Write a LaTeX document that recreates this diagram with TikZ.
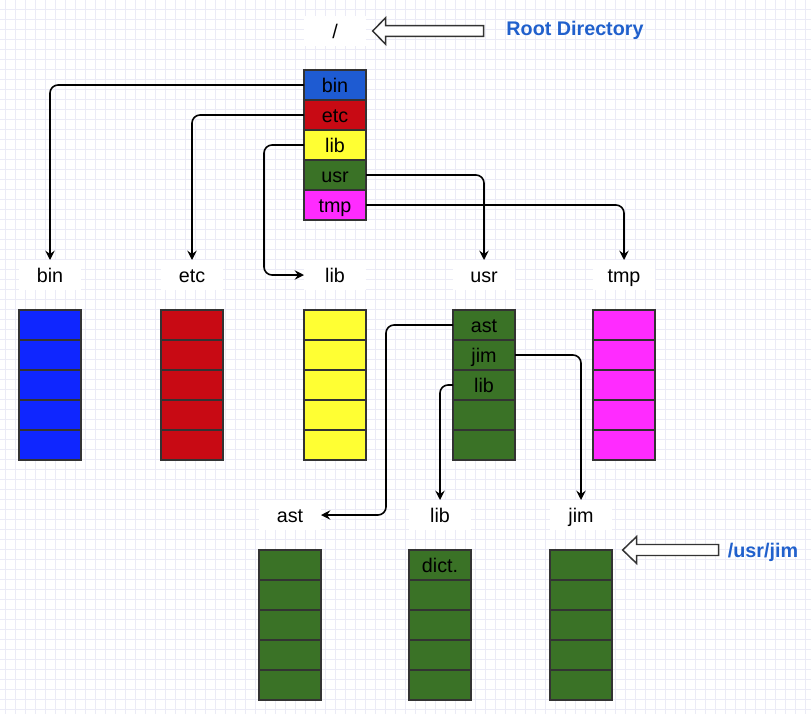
\documentclass[tikz,border=0pt]{standalone}
\usepackage{fontspec}
\setmainfont{Liberation Sans}
\usetikzlibrary{arrows.meta,positioning}

\definecolor{rootblue}{HTML}{1E5BD2}
\definecolor{binblue}{HTML}{0F26FF}
\definecolor{etcred}{HTML}{C80A14}
\definecolor{libyellow}{HTML}{FFFF33}
\definecolor{usrgreen}{HTML}{3A7226}
\definecolor{tmppink}{HTML}{FF2BFF}
\definecolor{cellline}{HTML}{333333}
\definecolor{notecol}{HTML}{2060CC}
\definecolor{gridcol}{HTML}{EBEBF6}

\tikzset{
  txt/.style={text height=11pt, text depth=0pt,
              font=\fontsize{14.8}{17}\selectfont},
  cell/.style={txt, draw=cellline, line width=1.2pt, minimum width=46.5pt,
               minimum height=22.5pt, inner sep=0pt, outer sep=0pt},
  celltext/.style={txt, inner sep=0pt},
  dirname/.style={txt, fill=white, minimum width=46.5pt, minimum height=22.5pt,
                  inner sep=0pt, outer sep=0pt},
  note/.style={txt, text=notecol, font=\bfseries\fontsize{14.8}{17}\selectfont},
  link/.style={line width=1.2pt, rounded corners=6pt,
               -{Stealth[length=7pt,width=7pt,inset=2.5pt]}},
  hollow/.style={draw=cellline, fill=white, line width=1.1pt},
  gridline/.style={draw=gridcol, line width=0.6pt}
}

\begin{document}
\begin{tikzpicture}[x=0.75pt,y=-0.75pt]
\fill[white] (0,0) rectangle (811,714);
\useasboundingbox (0,0) rectangle (811,714);
\foreach \gx in {5,15,...,805} \draw[gridline] (\gx,0) -- (\gx,714);
\foreach \gy in {9,19,...,709} \draw[gridline] (0,\gy) -- (811,\gy);

% root directory
\node[dirname] (root) at (335,31) {/};
\node[cell, fill=rootblue]                         (root-bin) at (335,85) {bin};
\node[cell, fill=etcred,    below=0pt of root-bin] (root-etc) {etc};
\node[cell, fill=libyellow, below=0pt of root-etc] (root-lib) {lib};
\node[cell, fill=usrgreen,  below=0pt of root-lib] (root-usr) {usr};
\node[cell, fill=tmppink,   below=0pt of root-usr] (root-tmp) {tmp};

% blocks of the subdirectories
\foreach \blk/\cx/\cy/\col in {bin/50/325/binblue, etc/192/325/etcred,
    lib/335/325/libyellow, usr/484/325/usrgreen, tmp/624/325/tmppink,
    ast/290/565/usrgreen, ulib/440/565/usrgreen, jim/581/565/usrgreen}
{
  \node[cell, fill=\col] (\blk-1) at (\cx,\cy) {};
  \foreach \i [count=\j from 2] in {1,...,4}
    \node[cell, fill=\col, below=0pt of \blk-\i] (\blk-\j) {};
}
\node[celltext] (usr-ast)   at (usr-1)  {ast};
\node[celltext] (usr-jim)   at (usr-2)  {jim};
\node[celltext] (usr-lib)   at (usr-3)  {lib};
\node[celltext] (ulib-dict) at (ulib-1) {dict.};

% directory names
\foreach \n/\cx in {bin/50, etc/192, lib/335, usr/484, tmp/624}
  \node[dirname] (\n) at (\cx,275) {\n};
\node[dirname] (ast)  at (290,515) {ast};
\node[dirname] (ulib) at (440,515) {lib};
\node[dirname] (jim)  at (581,515) {jim};

% links
\draw[link] (root-bin.west) -| (bin.north);
\draw[link] (root-etc.west) -| (etc.north);
\draw[link] (root-lib.west) -- ++(-40,0) |- (lib.west);
\draw[link] (root-usr.east) -| (usr.north);
\draw[link] (root-tmp.east) -| (tmp.north);
\draw[link] (usr-1.west) -- ++(-67,0) |- (ast.east);
\draw[link] (usr-2.east) -| (jim.north);
\draw[link] (usr-3.west) -| (ulib.north);

% notes
\node[note] (rootnote) at (575,28) {Root Directory};
\node[note] (jimnote)  at (763,550) {/usr/jim};
\draw[hollow] ([xshift=5pt]root.east) -- ++(13,-13.3) -- ++(0,8) -- ++(98,0)
  -- ++(0,10.6) -- ++(-98,0) -- ++(0,8) -- cycle;
\draw[hollow] ([xshift=8pt]jim-1.north east) -- ++(14,-13.5) -- ++(0,8) -- ++(82,0)
  -- ++(0,11) -- ++(-82,0) -- ++(0,8) -- cycle;
\end{tikzpicture}
\end{document}
